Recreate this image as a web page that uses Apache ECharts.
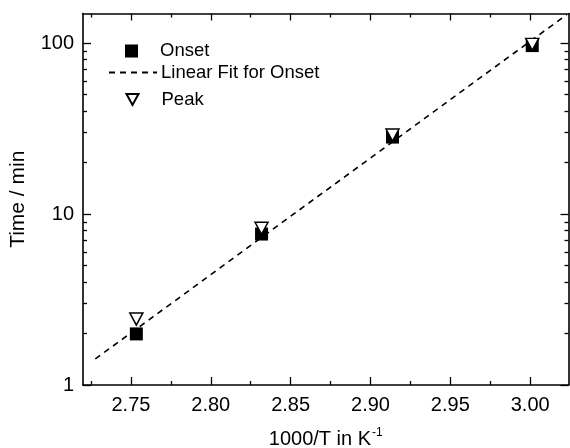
<!DOCTYPE html>
<html><head><meta charset="utf-8">
<script src="https://cdn.jsdelivr.net/npm/echarts@6/dist/echarts.min.js"></script>
<style>html,body{margin:0;padding:0;background:#fff}#c{width:570px;height:448px}</style>
</head><body><div id="c"></div>
<script>
// Data
const onsetX = [2.7534, 2.8318, 2.9138, 3.0013];
const onsetY = [1.99, 7.64, 28.2, 96.7];
const peakX = [2.7534, 2.8318, 2.9138, 3.0013];
const peakY = [2.43, 8.26, 29.0, 98.3];
const fitX = [2.7277, 3.0229];
const fitY = [1.42, 146.8];
const xMajorTicks = [2.75, 2.80, 2.85, 2.90, 2.95, 3.00];
const xMinorTicks = [2.725, 2.775, 2.825, 2.875, 2.925, 2.975, 3.025];
const yMajorTicks = [1, 10, 100];
const yMinorTicks = [2, 3, 4, 5, 6, 7, 8, 9, 20, 30, 40, 50, 60, 70, 80, 90];

const FONT = 'Liberation Sans, Arial, Helvetica, sans-serif';
const XMIN = 2.72, XMAX = 3.024, YMIN = 1, YMAX = 149;
const pair = (xs, ys) => xs.map((x, i) => [x, ys[i]]);

function xAx(pos, ticks, len, labels, line) {
  return {
    type: 'value', position: pos, min: XMIN, max: XMAX, gridIndex: 0,
    axisLine: {show: line, onZero: false, lineStyle: {color: '#000', width: 1.6}},
    axisTick: {show: true, inside: true, length: len, customValues: ticks, lineStyle: {color: '#000', width: 1.3}},
    axisLabel: labels ? {show: true, customValues: xMajorTicks, formatter: v => v.toFixed(2), color: '#000', fontSize: 20, fontFamily: FONT, margin: 10} : {show: false},
    splitLine: {show: false}
  };
}
function yAx(pos, ticks, len, labels, line) {
  return {
    type: 'log', logBase: 10, position: pos, min: YMIN, max: YMAX, gridIndex: 0,
    axisLine: {show: line, onZero: false, lineStyle: {color: '#000', width: 1.6}},
    axisTick: {show: true, inside: true, length: len, customValues: ticks, lineStyle: {color: '#000', width: 1.3}},
    axisLabel: labels ? {show: true, customValues: yMajorTicks, color: '#000', fontSize: 20, fontFamily: FONT, margin: 9} : {show: false},
    splitLine: {show: false}, minorTick: {show: false}
  };
}

const xAxes = [xAx('bottom', xMajorTicks, 8, true, true), xAx('bottom', xMinorTicks, 4, false, false),
               xAx('top', xMajorTicks, 7, false, true), xAx('top', xMinorTicks, 4, false, false)];
xAxes[0].name = '{a|1000/T in K}{s|-1}';
xAxes[0].nameLocation = 'middle';
xAxes[0].nameGap = 42;
xAxes[0].nameTextStyle = {rich: {a: {fontSize: 20, fontFamily: FONT, color: '#000', verticalAlign: 'bottom'},
                                  s: {fontSize: 12, fontFamily: FONT, color: '#000', verticalAlign: 'top', padding: [0, 0, 10, 1]}}};
const yAxes = [yAx('left', yMajorTicks, 8, true, true), yAx('left', yMinorTicks, 4, false, false),
               yAx('right', yMajorTicks, 8, false, true), yAx('right', yMinorTicks, 4, false, false)];
yAxes[0].name = 'Time / min';
yAxes[0].nameLocation = 'middle';
yAxes[0].nameGap = 54;
yAxes[0].nameTextStyle = {fontSize: 21, fontFamily: FONT, color: '#000'};

const legText = {fontSize: 18.5, fontFamily: FONT, color: '#000'};
const chart = echarts.init(document.getElementById('c'), null, {renderer: 'canvas'});
chart.setOption({
  animation: false,
  backgroundColor: '#fff',
  grid: {left: 83, right: 1.5, top: 13.5, bottom: 63, containLabel: false, outerBoundsMode: 'none'},
  xAxis: xAxes,
  yAxis: yAxes,
  legend: [
    {orient: 'vertical', left: 125, top: 41.5, itemWidth: 13, itemHeight: 13, padding: 0,
     textStyle: Object.assign({padding: [0, 0, 0, 17]}, legText), data: ['Onset']},
    {orient: 'vertical', left: 108, top: 63, itemWidth: 48, itemHeight: 13, padding: 0,
     itemStyle: {opacity: 0}, textStyle: Object.assign({padding: [0, 0, 0, -1]}, legText), data: ['Linear Fit for Onset']},
    {orient: 'vertical', left: 125.5, top: 90, itemWidth: 12, itemHeight: 11, padding: 0,
     textStyle: Object.assign({padding: [0, 0, 0, 18]}, legText),
     data: [{name: 'Peak', icon: 'path://M0,0L12,0L6,11Z'}]}
  ],
  series: [
    {name: 'Onset', type: 'scatter', data: pair(onsetX, onsetY), symbol: 'rect', symbolSize: 13,
     itemStyle: {color: '#000', opacity: 1}, z: 3},
    {name: 'Linear Fit for Onset', type: 'line', data: pair(fitX, fitY), showSymbol: false, symbol: 'none',
     lineStyle: {color: '#000', width: 1.6, type: [6, 5]}, itemStyle: {color: '#000'}, z: 4},
    {name: 'Peak', type: 'scatter', data: pair(peakX, peakY), symbol: 'triangle', symbolRotate: 180, symbolSize: [13, 12],
     itemStyle: {color: '#fff', borderColor: '#000', borderWidth: 1.5, opacity: 1}, z: 5}
  ]
});
</script></body></html>
